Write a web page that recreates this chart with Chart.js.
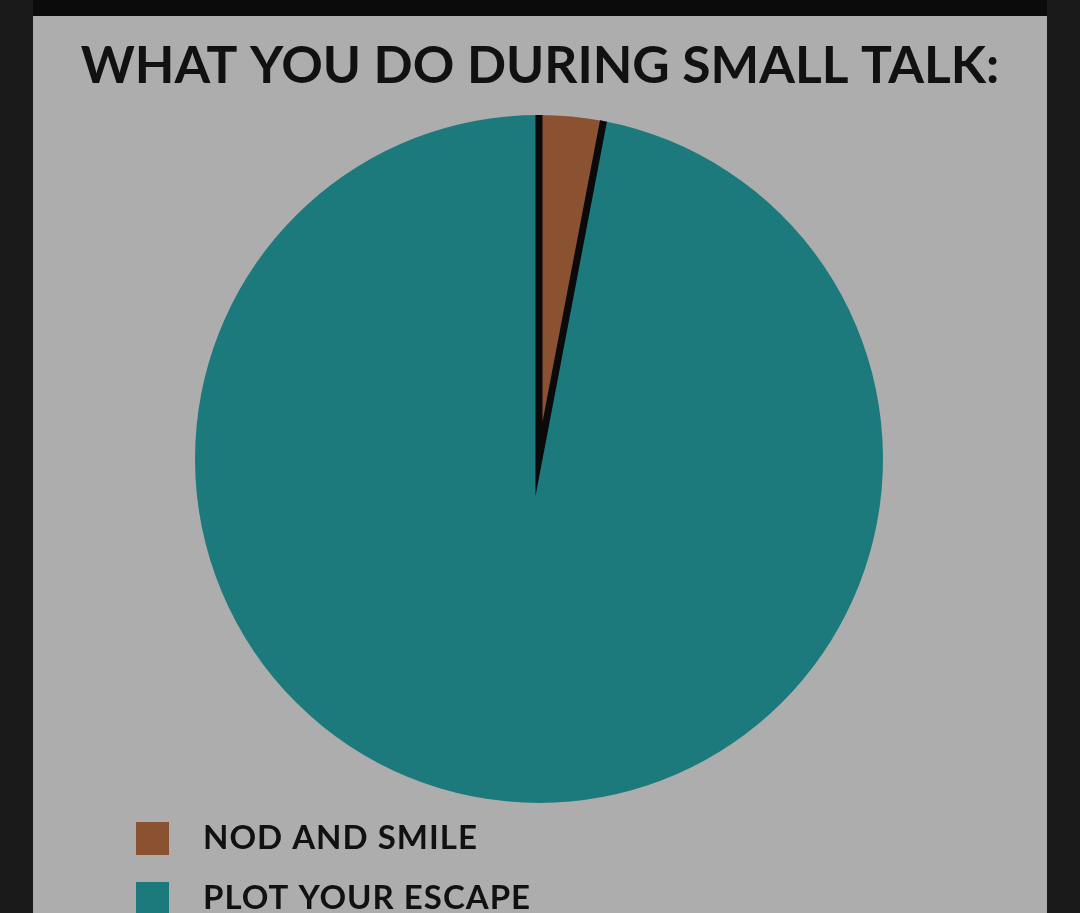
<!DOCTYPE html>
<html>
<head>
<meta charset="utf-8">
<script src="https://cdn.jsdelivr.net/npm/chart.js@4.4.1/dist/chart.umd.min.js"></script>
<style>
  html, body { margin: 0; padding: 0; width: 1080px; height: 913px; overflow: hidden; background: #1a1a1a; }
  #topbar { position: absolute; left: 33px; top: 0; width: 1014px; height: 16px; background: #0b0b0b; }
  #wrap { position: absolute; left: 33px; top: 16px; width: 1014px; height: 909px; background: #adadad; }
</style>
</head>
<body>
<div id="topbar"></div>
<div id="wrap"><canvas id="c"></canvas></div>
<script>
// ---- data ----
const categories = ['NOD AND SMILE', 'PLOT YOUR ESCAPE'];
const values = [3, 97];
const sliceColors = ['#8b5232', '#1c7a7d'];
const titleText = 'WHAT YOU DO DURING SMALL TALK:';

// draw order: teal first, brown last (so the brown slice's black edges sit on top)
const order = [1, 0];
const total = values.reduce((a, b) => a + b, 0);
const startRotation = 360 * values[0] / total; // teal starts right after the brown wedge
const PIE_R = 344;
const wedgeArcLen = PIE_R * 2 * Math.PI * values[0] / total; // skip the black edge along the rim

const FONT = 'Lato, "DejaVu Sans", sans-serif';

new Chart(document.getElementById('c'), {
  type: 'pie',
  data: {
    labels: order.map(i => categories[i]),
    datasets: [{
      data: order.map(i => values[i]),
      backgroundColor: order.map(i => sliceColors[i]),
      borderColor: order.map(i => i === 0 ? '#0a0a0a' : sliceColors[i]),
      borderWidth: order.map(i => i === 0 ? 7 : 0),
      borderJoinStyle: 'miter',
      borderDash: [0, wedgeArcLen, 3000],
      radius: PIE_R,
      rotation: startRotation,
      hoverOffset: 0,
      clip: false
    }]
  },
  options: {
    responsive: true,
    maintainAspectRatio: false,
    animation: false,
    layout: { padding: { left: 76, right: 78, top: 0, bottom: 0 } },
    plugins: {
      tooltip: { enabled: false },
      title: {
        display: true,
        text: titleText,
        color: '#111111',
        font: { family: FONT, size: 51.5, weight: 'bold', lineHeight: 1.2 },
        padding: { top: 19, bottom: 26 }
      },
      legend: {
        display: true,
        position: 'bottom',
        align: 'start',
        labels: {
          boxWidth: 33,
          boxHeight: 33,
          padding: 27,
          color: '#111111',
          font: { family: FONT, size: 33, weight: 'bold' },
          sort: (a, b) => b.index - a.index,
          generateLabels: (chart) => {
            const items = Chart.overrides.pie.plugins.legend.labels.generateLabels(chart);
            return items.map(it => Object.assign(it, {
              text: '\u2002' + it.text + '\u2003'.repeat(4),
              strokeStyle: it.fillStyle,
              lineWidth: 0
            }));
          }
        }
      }
    }
  },
  plugins: [{
    id: 'textStyle',
    afterLayout(chart) {
      // let the title use the full canvas width (not the padded width)
      const tb = chart.titleBlock;
      if (tb) { tb.left = 0; tb.right = chart.width; tb.width = chart.width; }
    },
    beforeDraw(chart) {
      const lg = chart.legend;
      if (lg && !lg._spaced) {
        const orig = lg.draw;
        lg.draw = function (...args) {
          const c = this.ctx;
          const prev = c.letterSpacing;
          c.letterSpacing = '1px';
          orig.apply(this, args);
          c.letterSpacing = prev;
        };
        lg._spaced = true;
      }
      chart.ctx.miterLimit = 30;
    }
  }]
});
</script>
</body>
</html>
